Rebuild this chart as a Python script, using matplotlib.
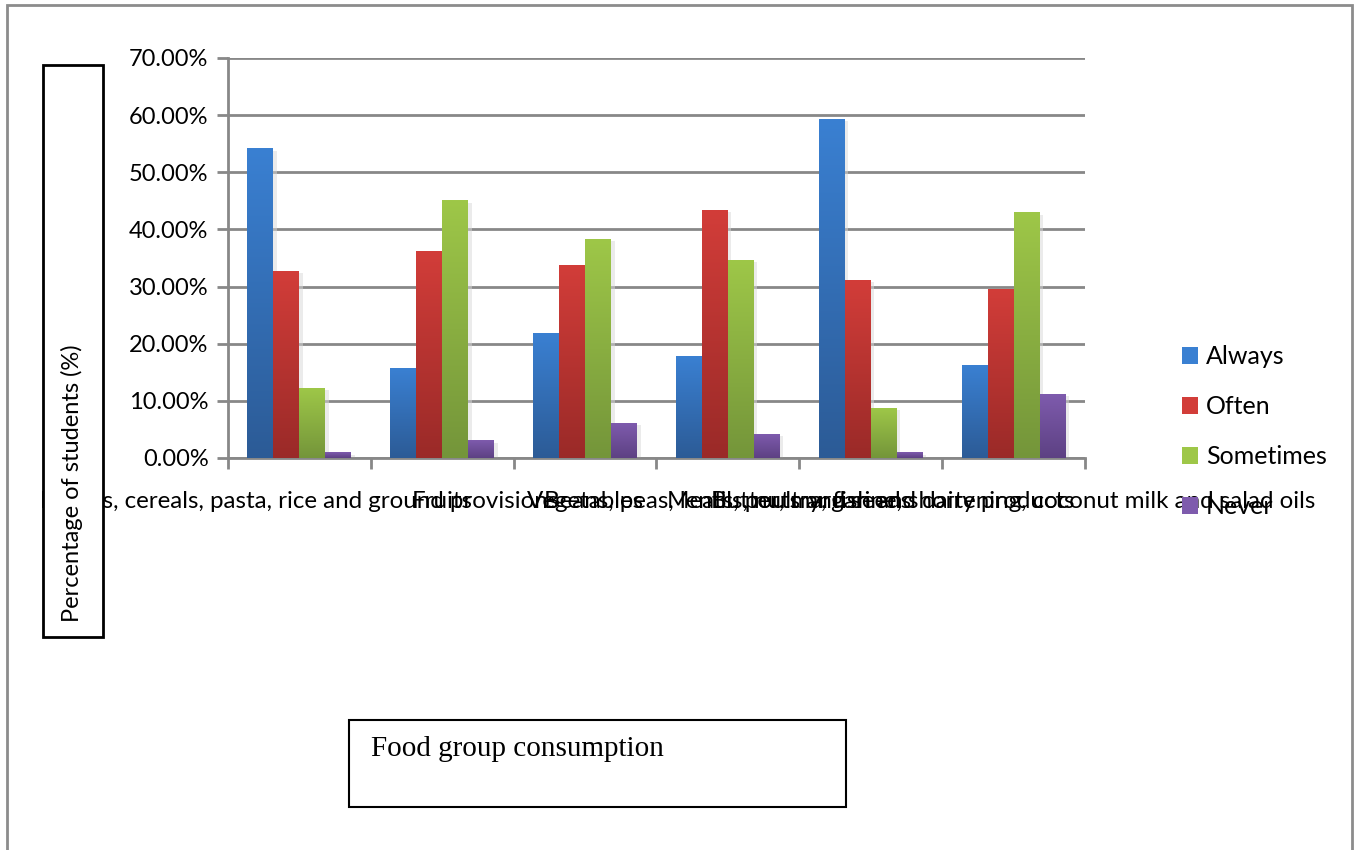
import numpy as np
import matplotlib
matplotlib.use("Agg")
import matplotlib.pyplot as plt
from matplotlib.colors import LinearSegmentedColormap
from matplotlib.patches import Rectangle, Patch

categories = [
    "Breads, cereals, pasta, rice and ground provisions",
    "Fruits",
    "Vegetables",
    "Beans, peas, lentils, nuts and seeds",
    "Meats, poultry, fish and dairy products",
    "Butter, margarine, shortening, coconut milk and salad oils",
]
series_names = ["Always", "Often", "Sometimes", "Never"]
always = [54.1, 15.7, 21.8, 17.8, 59.2, 16.2]
often = [32.7, 36.2, 33.7, 43.4, 31.1, 29.5]
sometimes = [12.2, 45.0, 38.3, 34.6, 8.7, 42.9]
never = [0.9, 3.0, 6.0, 4.1, 0.9, 11.1]
y_ticks = [0, 10, 20, 30, 40, 50, 60, 70]
y_tick_labels = ["0.00%", "10.00%", "20.00%", "30.00%", "40.00%", "50.00%", "60.00%", "70.00%"]

series = [always, often, sometimes, never]
# (top colour, bottom colour) per series
grad_colors = [
    ("#3A80D2", "#2C5B96"),
    ("#D23D39", "#9A2A28"),
    ("#9EC748", "#74953A"),
    ("#7E5BAD", "#5D4183"),
]

W, H = 1357, 850
fig = plt.figure(figsize=(W / 100, H / 100), dpi=100)
fig.patch.set_facecolor("white")

def fx(px):
    return px / W

def fy(py):
    return 1 - py / H

FONT = "Lato"

ax = fig.add_axes([fx(228), fy(458), fx(1085) - fx(228), fy(58) - fy(458)])
ax.set_facecolor("white")

n = len(categories)
x = np.arange(n)
bw = 1 / 5.5

for k, (vals, (ctop, cbot)) in enumerate(zip(series, grad_colors)):
    offs = x + (k - 1.5) * bw
    bars = ax.bar(offs, vals, width=bw, color=cbot, zorder=3, linewidth=0)
    cmap = LinearSegmentedColormap.from_list("g%d" % k, [cbot, ctop])
    for b in bars:
        x0, w_, h_ = b.get_x(), b.get_width(), b.get_height()
        # soft shadow on the right
        ax.add_patch(Rectangle((x0 + w_, 0), 0.025, h_ - 0.3, color="#d8d8d8",
                               alpha=0.5, zorder=2, linewidth=0))
        grad = np.linspace(0, 1, 256).reshape(-1, 1)
        ax.imshow(grad, extent=[x0, x0 + w_, 0, h_], origin="lower",
                  aspect="auto", cmap=cmap, zorder=4)

ax.set_xlim(-0.5, n - 0.5)
ax.set_ylim(0, 70)
ax.set_yticks(y_ticks)
ax.set_yticklabels(y_tick_labels, fontsize=17, family=FONT)
ax.yaxis.grid(True, color="#888888", linewidth=2, zorder=1)
ax.set_axisbelow(True)

ax.set_xticks(np.arange(n + 1) - 0.5)
ax.set_xticklabels([])
ax.set_xticks(x, minor=True)
ax.set_xticklabels(categories, minor=True, fontsize=17.4, family=FONT)
ax.tick_params(axis="x", which="minor", length=0, pad=24)
ax.tick_params(axis="x", which="major", length=8, color="#888888", width=2)
ax.tick_params(axis="y", length=8, color="#888888", width=2, pad=6)

for s in ["top", "right"]:
    ax.spines[s].set_visible(False)
for s in ["left", "bottom"]:
    ax.spines[s].set_color("#888888")
    ax.spines[s].set_linewidth(2)

# legend
handles = [Patch(facecolor=c[0], edgecolor="none") for c in grad_colors]
leg = fig.legend(handles, series_names, loc="upper left",
                 bbox_to_anchor=(fx(1182), fy(345)), frameon=False,
                 prop={"family": FONT, "size": 18}, labelspacing=1.08,
                 handlelength=0.65, handleheight=0.65, handletextpad=0.3,
                 borderpad=0, borderaxespad=0)

# outer chart border
fig.add_artist(Rectangle((fx(7), fy(860)), fx(1352) - fx(7), fy(5) - fy(860),
                         transform=fig.transFigure, fill=False,
                         edgecolor="#8c8c8c", linewidth=2, zorder=5))

# y-axis title box (white-filled, drawn over the category labels)
fig.add_artist(Rectangle((fx(43), fy(637)), fx(103) - fx(43), fy(65) - fy(637),
                         transform=fig.transFigure, facecolor="white",
                         edgecolor="black", linewidth=2, zorder=5))
fig.text(fx(72), fy(483), "Percentage of students (%)", rotation=90,
         ha="center", va="center", fontsize=17, family=FONT, zorder=6)

# x-axis title box
fig.add_artist(Rectangle((fx(349), fy(807)), fx(846) - fx(349), fy(720) - fy(807),
                         transform=fig.transFigure, facecolor="white",
                         edgecolor="black", linewidth=1.5, zorder=5))
fig.text(fx(371), fy(749), "Food group consumption", ha="left", va="center",
         fontsize=21, family="Liberation Serif", zorder=6)

fig.savefig("out.png", dpi=100)
